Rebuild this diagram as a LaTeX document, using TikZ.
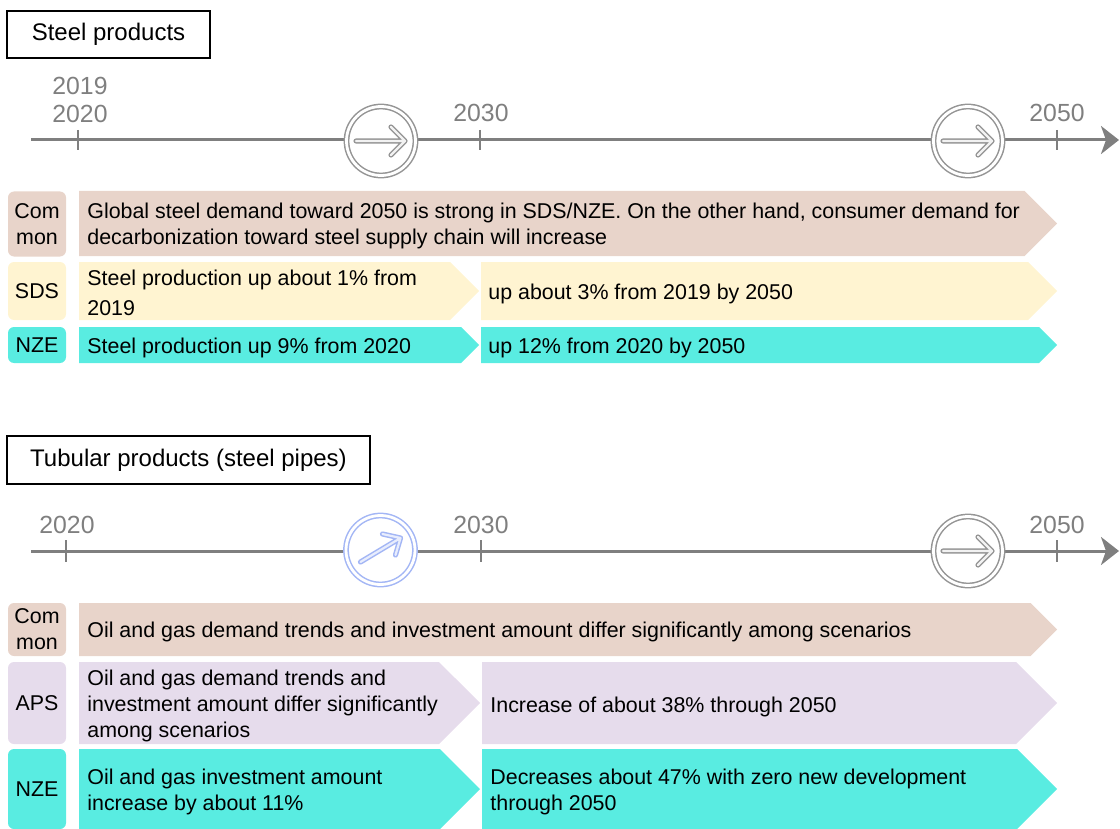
\documentclass[tikz,border=0pt]{standalone}
\usepackage{xcolor}
\usepackage{fontspec}
\setmainfont{Liberation Sans}
\usetikzlibrary{arrows.meta}

\definecolor{commonc}{HTML}{E8D4CA}
\definecolor{sdsc}{HTML}{FFF4D1}
\definecolor{nzec}{HTML}{59ECE1}
\definecolor{apsc}{HTML}{E6DCEC}
\definecolor{axisc}{HTML}{7F7F7F}
\definecolor{ringgray}{HTML}{959595}
\definecolor{ringblue}{HTML}{A3B6F5}
\definecolor{coregray}{HTML}{F2F2F2}
\definecolor{coreblue}{HTML}{E8EDFD}

\begin{document}
\begin{tikzpicture}[x=0.5pt, y=-0.5pt,
  title/.style={draw, line width=0.6pt, fill=white, inner sep=0pt, font=\fontsize{12}{14}\selectfont},
  year/.style={text=axisc, inner sep=0pt, align=center, font=\fontsize{12.4}{14.2}\selectfont},
  axis/.style={axisc, line width=1.5pt, -{Stealth[length=9pt,width=14pt,inset=2.5pt]}},
  yeartick/.style={axisc, line width=1pt},
  ring/.style={circle, draw=#1, double=white, double distance=1.4pt, line width=0.75pt, fill=white, minimum size=34.5pt, inner sep=0pt},
  arrowedge/.style={line width=2.6pt, line cap=round, line join=round},
  arrowcore/.style={line width=1.1pt, line cap=round, line join=round},
  tag/.style={fill=#1, rounded corners=3pt, minimum width=29pt, inner sep=0pt, align=center, font=\fontsize{10.7}{13}\selectfont},
  band/.style={anchor=west, inner sep=0pt, align=left, font=\fontsize{10.7}{13}\selectfont}]
\useasboundingbox (0,0) rectangle (1120,829);

% steel products
\node[title, minimum width=101.5pt, minimum height=23.5pt] (steeltitle) at (108.5,34.5) {Steel products};

\coordinate (axAs) at (31,140);
\coordinate (axAe) at (1119,140);
\draw[axis] (axAs) -- (axAe);
\draw[yeartick] (78,130) -- (78,150);
\draw[yeartick] (480,130) -- (480,150);
\draw[yeartick] (1057,130) -- (1057,150);
\node[year] (yA1) at (80,100) {2019\\2020};
\node[year] (yA2) at (481,113) {2030};
\node[year] (yA3) at (1057,113) {2050};

\node[ring=ringgray] (ringA1) at (381,141) {};
\node[ring=ringgray] (ringA2) at (968,141) {};
\begin{scope}[shift={(ringA1)}]
  \draw[arrowedge, ringgray] (-25,0) -- (24,0) (10,-14) -- (24,0) -- (10,14);
  \draw[arrowcore, coregray] (-25,0) -- (24,0) (10,-14) -- (24,0) -- (10,14);
\end{scope}
\begin{scope}[shift={(ringA2)}]
  \draw[arrowedge, ringgray] (-25,0) -- (24,0) (10,-14) -- (24,0) -- (10,14);
  \draw[arrowcore, coregray] (-25,0) -- (24,0) (10,-14) -- (24,0) -- (10,14);
\end{scope}

\fill[commonc] (79,191) -- (1024.5,191) -- (1057,223.5) -- (1024.5,256) -- (79,256) -- cycle;
\fill[sdsc] (79,262) -- (450,262) -- (479,291) -- (450,320) -- (79,320) -- cycle;
\fill[sdsc] (481,262) -- (1028,262) -- (1057,291) -- (1028,320) -- (481,320) -- cycle;
\fill[nzec] (79,327) -- (461,327) -- (479,345) -- (461,363) -- (79,363) -- cycle;
\fill[nzec] (481,327) -- (1039,327) -- (1057,345) -- (1039,363) -- (481,363) -- cycle;

\node[tag=commonc, minimum height=32.5pt] (tagA1) at (37,224) {Com\\mon};
\node[tag=sdsc, minimum height=29pt] (tagA2) at (37,291) {SDS};
\node[tag=nzec, minimum height=18pt] (tagA3) at (37,345) {NZE};

\node[band] (txtA1) at (87,226) {Global steel demand toward 2050 is strong in SDS/NZE. On the other hand, consumer demand for\\decarbonization toward steel supply chain will increase};
\node[band] (txtA2) at (87,293) {Steel production up about 1\% from\\[2pt]2019};
\node[band] (txtA3) at (488,294) {up about 3\% from 2019 by 2050};
\node[band] (txtA4) at (87,348) {Steel production up 9\% from 2020};
\node[band] (txtA5) at (488,348) {up 12\% from 2020 by 2050};

% tubular products
\node[title, minimum width=181.5pt, minimum height=24pt] (pipetitle) at (188.5,460) {Tubular products (steel pipes)};

\coordinate (axBs) at (31,551);
\coordinate (axBe) at (1119,551);
\draw[axis] (axBs) -- (axBe);
\draw[yeartick] (66,540) -- (66,562);
\draw[yeartick] (481,540) -- (481,562);
\draw[yeartick] (1057,540) -- (1057,562);
\node[year] (yB1) at (67,525) {2020};
\node[year] (yB2) at (481,525) {2030};
\node[year] (yB3) at (1057,525) {2050};

\node[ring=ringblue] (ringB1) at (380.5,550) {};
\node[ring=ringgray] (ringB2) at (968,551) {};
\begin{scope}[shift={(ringB1)}]
  \draw[arrowedge, ringblue] (-20,12) -- (20,-12) (2,-16) -- (20,-12) -- (15,5);
  \draw[arrowcore, coreblue] (-20,12) -- (20,-12) (2,-16) -- (20,-12) -- (15,5);
\end{scope}
\begin{scope}[shift={(ringB2)}]
  \draw[arrowedge, ringgray] (-25,0) -- (24,0) (10,-14) -- (24,0) -- (10,14);
  \draw[arrowcore, coregray] (-25,0) -- (24,0) (10,-14) -- (24,0) -- (10,14);
\end{scope}

\fill[commonc] (79,603) -- (1030.5,603) -- (1057,629.5) -- (1030.5,656) -- (79,656) -- cycle;
\fill[apsc] (79,662) -- (439,662) -- (480,703) -- (439,744) -- (79,744) -- cycle;
\fill[apsc] (482,662) -- (1016,662) -- (1057,703) -- (1016,744) -- (482,744) -- cycle;
\fill[nzec] (79,749) -- (440,749) -- (480,789) -- (440,829) -- (79,829) -- cycle;
\fill[nzec] (482,749) -- (1017,749) -- (1057,789) -- (1017,829) -- (482,829) -- cycle;

\node[tag=commonc, minimum height=26.5pt] (tagB1) at (37,629.5) {Com\\mon};
\node[tag=apsc, minimum height=41pt] (tagB2) at (37,703) {APS};
\node[tag=nzec, minimum height=40pt] (tagB3) at (37,789) {NZE};

\node[band] (txtB1) at (87,632) {Oil and gas demand trends and investment amount differ significantly among scenarios};
\node[band] (txtB2) at (87,706) {Oil and gas demand trends and\\investment amount differ significantly\\among scenarios};
\node[band] (txtB3) at (490,707) {Increase of about 38\% through 2050};
\node[band] (txtB4) at (87,792) {Oil and gas investment amount\\increase by about 11\%};
\node[band] (txtB5) at (490,792) {Decreases about 47\% with zero new development\\through 2050};
\end{tikzpicture}
\end{document}
